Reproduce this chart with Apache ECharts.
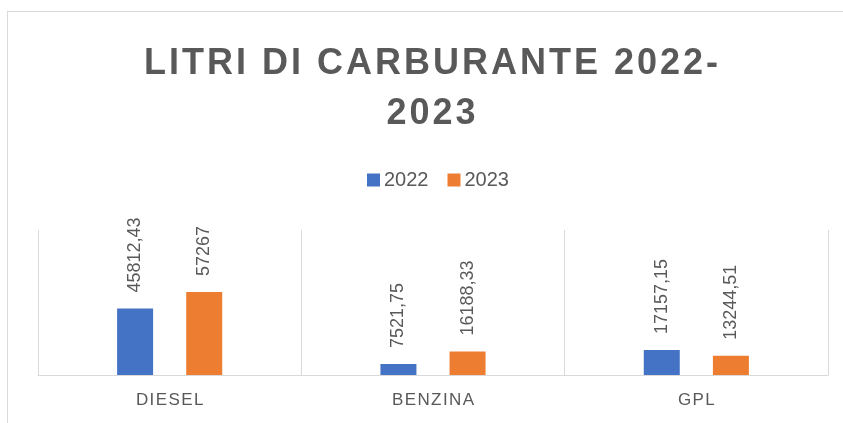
<!DOCTYPE html>
<html>
<head>
<meta charset="utf-8">
<script src="https://cdn.jsdelivr.net/npm/echarts@6/dist/echarts.min.js"></script>
<style>
  body { margin: 0; overflow: hidden; background: #fff; }
  #frame {
    position: absolute;
    left: 7px;
    top: 11px;
    border: 1px solid #d9d9d9;
  }
  #chart { width: 846px; height: 450px; }
</style>
</head>
<body>
<div id="frame"><div id="chart"></div></div>
<script>
const categories = ["DIESEL", "BENZINA", "GPL"];
const seriesNames = ["2022", "2023"];
const values2022 = [45812.43, 7521.75, 17157.15];
const values2023 = [57267, 16188.33, 13244.51];
const colors = ["#4472C4", "#ED7D31"];

// spaziatura tra le lettere (il canvas non ha letter-spacing)
function spaced(str) {
  return str.split("").join("\u200A");
}

const chart = echarts.init(document.getElementById("chart"));

const labelStyle = {
  show: true,
  position: "top",
  rotate: 90,
  align: "left",
  verticalAlign: "middle",
  distance: 16,
  color: "#595959",
  fontSize: 18,
  fontFamily: "Liberation Sans",
  formatter: (p) => String(p.value).replace(".", ","),
};

chart.setOption({
  animation: false,
  title: {
    text: spaced("LITRI DI CARBURANTE 2022-") + "\n" + spaced("2023"),
    left: "center",
    top: 22,
    textStyle: {
      color: "#595959",
      fontSize: 36,
      fontWeight: "bold",
      fontFamily: "Liberation Sans",
      lineHeight: 50,
    },
  },
  legend: {
    data: seriesNames,
    left: 354,
    top: 153,
    itemWidth: 13,
    itemHeight: 13,
    itemGap: 19,
    icon: "rect",
    textStyle: {
      color: "#595959",
      fontSize: 20,
      fontFamily: "Liberation Sans",
      padding: [0, 0, 0, -1],
    },
  },
  grid: {
    left: 30,
    top: 218,
    width: 790,
    height: 145,
  },
  xAxis: {
    type: "category",
    data: categories,
    axisTick: { show: false },
    axisLine: { lineStyle: { color: "#d9d9d9", width: 1 } },
    splitLine: { show: true, lineStyle: { color: "#d9d9d9", width: 1 } },
    axisLabel: {
      formatter: (v) => spaced(v),
      color: "#595959",
      fontSize: 17,
      fontFamily: "Liberation Sans",
      margin: 17,
    },
  },
  yAxis: {
    type: "value",
    min: 0,
    max: 100000,
    show: false,
    splitLine: { show: false },
  },
  series: [
    {
      name: seriesNames[0],
      type: "bar",
      data: values2022,
      barWidth: 36,
      barGap: "92%",
      itemStyle: { color: colors[0] },
      label: labelStyle,
    },
    {
      name: seriesNames[1],
      type: "bar",
      data: values2023,
      barWidth: 36,
      barGap: "92%",
      itemStyle: { color: colors[1] },
      label: labelStyle,
    },
  ],
});
</script>
</body>
</html>
